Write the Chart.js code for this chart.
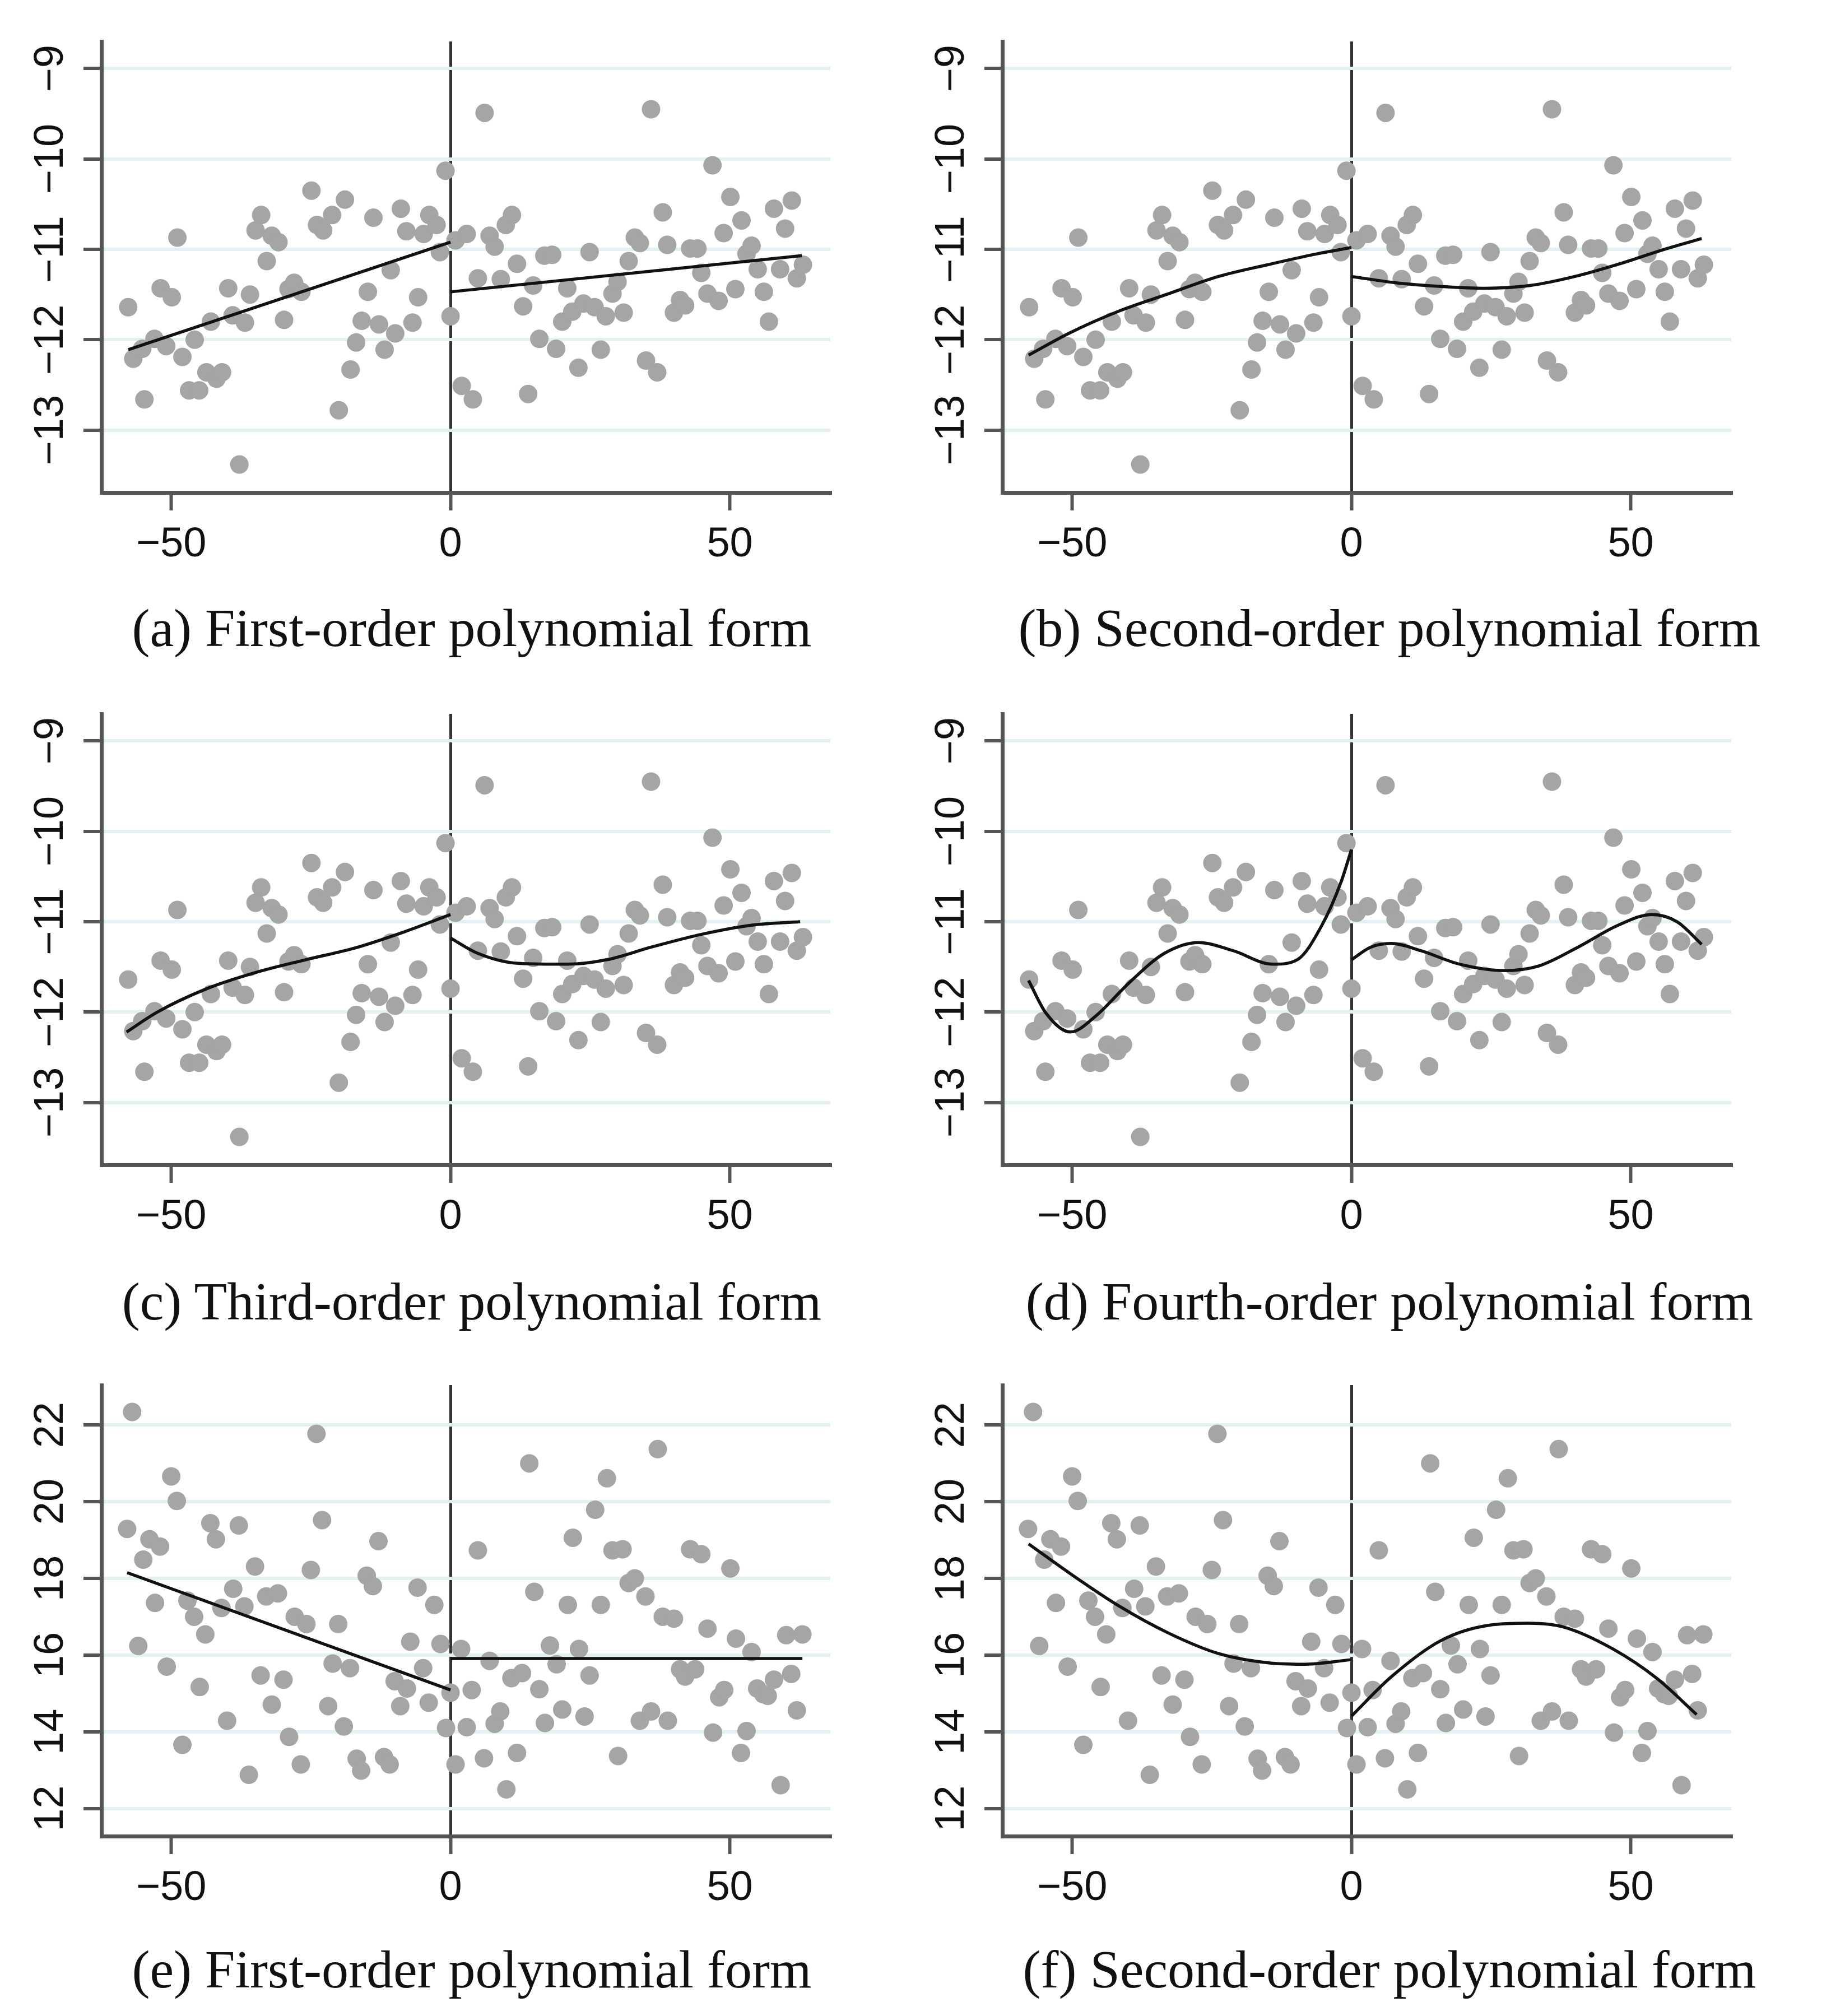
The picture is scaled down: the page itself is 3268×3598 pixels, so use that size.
<!DOCTYPE html>
<html>
<head>
<meta charset="utf-8">
<script src="https://cdn.jsdelivr.net/npm/chart.js@4.4.1/dist/chart.umd.min.js"></script>
<style>
  body { margin: 0; background: #fff; width: 3268px; height: 3598px; position: relative; overflow: hidden; }
  canvas { position: absolute; }
  .caption {
    position: absolute; white-space: nowrap; transform: translate(-50%, -50%);
    font-family: 'Liberation Serif', 'Times New Roman', serif; font-size: 96px; color: #111;
  }
</style>
</head>
<body>
<script>
// bins of the running variable and outcome, panels (a)-(d)
const xAD = [-57.7, -56.8, -55.2, -54.8, -53, -51.9, -50.9, -49.9, -48.9, -48, -46.8, -45.8, -45, -43.7, -42.9,
  -41.9, -40.9, -39.8, -39, -37.8, -36.8, -35.9, -34.9, -33.9, -32.9, -32, -30.8, -29.8, -29, -28, -26.7, -24.9,
  -23.9, -22.8, -21.2, -20, -18.9, -17.9, -16.9, -15.9, -14.8, -13.8, -12.8, -11.8, -10.7, -9.9, -8.9, -7.9, -6.8,
  -5.8, -4.8, -3.8, -2.5, -1.9, -0.9,
  0, 0.9, 2, 2.9, 4, 4.9, 6.1, 7, 7.9, 9, 9.9, 11, 11.9, 13, 13.9, 14.8, 15.9, 16.8, 18.2, 18.9, 20, 20.9, 21.8,
  22.9, 23.8, 24.9, 25.8, 26.9, 27.8, 29, 29.9, 31, 31.9, 33, 33.9, 35, 35.9, 37, 38, 38.8, 40, 41.1, 42, 42.9,
  44.2, 44.9, 46, 46.9, 48, 48.9, 50.1, 51, 52.1, 53, 53.9, 55, 56.1, 57, 57.9, 59, 59.9, 61.1, 62, 63.1];
const yAD = [-11.64, -12.21, -12.10, -12.66, -11.99, -11.43, -12.07, -11.53, -10.87, -12.19, -12.56, -12.0, -12.56,
  -12.36, -11.8, -12.43, -12.36, -11.43, -11.73, -13.38, -11.81, -11.5, -10.79, -10.62, -11.13, -10.85, -10.92,
  -11.78, -11.44, -11.37, -11.47, -10.35, -10.73, -10.79, -10.62, -12.78, -10.45, -12.33, -12.03, -11.79, -11.47,
  -10.65, -11.83, -12.11, -11.23, -11.93, -10.55, -10.8, -11.81, -11.53, -10.83, -10.62, -10.73, -11.03, -10.13,
  -11.74, -10.9, -12.51, -10.83, -12.66, -11.32, -9.49, -10.85, -10.97, -11.33, -10.73, -10.62, -11.16, -11.63,
  -12.6, -11.4, -11.99, -11.07, -11.06, -12.1, -11.8, -11.43, -11.69, -12.31, -11.6, -11.03, -11.64, -12.11, -11.74,
  -11.49, -11.36, -11.7, -11.13, -10.87, -10.93, -12.23, -9.45, -12.36, -10.59, -10.95, -11.7, -11.56, -11.62,
  -10.99, -10.99, -11.26, -11.49, -10.07, -11.57, -10.82, -10.42, -11.44, -10.68, -11.05, -10.96, -11.22, -11.47,
  -11.8, -10.55, -11.22, -10.77, -10.46, -11.32, -11.17];

// panels (e)-(f)
const xEF = [-57.9, -57, -55.9, -55, -53.9, -52.9, -52, -50.8, -50, -49, -48, -47.1, -45.9, -44.9, -43.9, -43, -42,
  -41, -40, -38.9, -37.9, -36.9, -36.1, -35, -34, -33, -32, -30.9, -29.9, -28.9, -27.9, -26.8, -25.8, -25, -24, -23,
  -21.9, -21.1, -20.1, -19.1, -18, -16.8, -16, -15, -13.9, -12.9, -11.9, -10.9, -10, -9, -7.8, -7.2, -5.9, -4.9,
  -3.9, -2.9, -1.8, -0.8,
  0, 0.9, 1.9, 2.9, 3.8, 4.9, 6, 7, 7.9, 8.9, 10, 10.9, 11.9, 12.8, 14.1, 15, 15.9, 16.9, 17.8, 19, 20, 21, 21.9,
  23, 24, 24.9, 25.9, 26.9, 28, 29, 30, 30.8, 31.9, 33, 33.9, 34.9, 35.9, 37.1, 38, 38.9, 40, 41.1, 42, 42.9, 43.8,
  44.9, 46, 47, 48.1, 49, 50.1, 51.1, 52, 53, 53.9, 54.9, 56, 56.8, 57.9, 59.1, 60.1, 61, 62, 63];
const yEF = [19.29, 22.34, 16.24, 18.49, 19.02, 17.36, 18.83, 15.7, 20.66, 20.02, 13.66, 17.42, 17.0, 15.17, 16.54,
  19.44, 19.02, 17.23, 14.29, 17.73, 19.38, 17.27, 12.88, 18.31, 15.47, 17.53, 14.71, 17.61, 15.36, 13.87, 17.0,
  13.15, 16.81, 18.22, 21.77, 19.52, 14.67, 15.78, 16.81, 14.14, 15.66, 13.3, 12.99, 18.07, 17.8, 18.97, 13.34,
  13.15, 15.32, 14.67, 15.13, 16.35, 17.76, 15.66, 14.76, 17.31, 16.29, 14.1,
  15.02, 13.15, 16.16, 14.12, 15.09, 18.73, 13.31, 15.85, 14.21, 14.53, 12.5, 15.4, 13.45, 15.53, 21.0, 17.65,
  15.11, 14.23, 16.25, 15.76, 14.58, 17.31, 19.06, 16.16, 14.4, 15.47, 19.79, 17.31, 20.61, 18.73, 13.37, 18.76,
  17.88, 18.0, 14.29, 17.53, 14.53, 21.37, 17.0, 14.29, 16.95, 15.63, 15.44, 18.76, 15.63, 18.63, 16.69, 13.98,
  14.9, 15.09, 18.26, 16.43, 13.45, 14.02, 16.08, 15.13, 14.98, 14.94, 15.36, 12.61, 16.52, 15.51, 14.56, 16.54];

// fitted curves
const aLeftX = [-57.7, 0], aLeftY = [-12.11, -10.92];
const aRightX = [0, 62.9], aRightY = [-11.47, -11.07];
const bLeftX = [-57.8, -50.3, -41.5, -32.7, -23.8, -15, -6.2, 0];
const bLeftY = [-12.17, -11.92, -11.68, -11.49, -11.3, -11.17, -11.05, -10.98];
const bRightX = [0, 8, 16, 24, 32, 40, 48, 56, 62.7];
const bRightY = [-11.3, -11.37, -11.41, -11.43, -11.4, -11.3, -11.16, -11.0, -10.88];
const cLeftX = [-58, -52.5, -43.6, -34.8, -25.9, -17.1, -8.2, 0];
const cLeftY = [-12.22, -12.0, -11.74, -11.56, -11.42, -11.29, -11.11, -10.92];
const cRightX = [0, 4.9, 12.1, 21, 28, 36, 44.9, 53.7, 62.6];
const cRightY = [-11.18, -11.35, -11.46, -11.47, -11.42, -11.28, -11.14, -11.04, -11.0];
const dLeftX = [-57.8, -54.7, -50.3, -45.9, -39.7, -33.5, -27.4, -21.2, -14.1, -9.7, -5.3, -1.8, 0];
const dLeftY = [-11.65, -12.01, -12.22, -12.05, -11.67, -11.35, -11.23, -11.32, -11.47, -11.42, -11.04, -10.55, -10.2];
const dRightX = [0, 3.5, 7.1, 12.4, 19.4, 27.4, 33.5, 40.6, 47.7, 53.8, 58.3, 62.7];
const dRightY = [-11.42, -11.28, -11.24, -11.32, -11.47, -11.54, -11.49, -11.28, -11.04, -10.92, -11.0, -11.25];
const eLeftX = [-57.9, 0], eLeftY = [18.15, 15.09];
const eRightX = [0, 63], eRightY = [15.91, 15.91];
const fLeftX = [-57.8, -50.3, -41.5, -32.7, -23.8, -15, -8.8, 0];
const fLeftY = [18.9, 18.12, 17.27, 16.57, 16.04, 15.8, 15.76, 15.88];
const fRightX = [0, 7.1, 15.9, 24.7, 31.8, 38, 46.8, 54.7, 61.8];
const fRightY = [14.41, 15.43, 16.37, 16.78, 16.83, 16.73, 16.16, 15.39, 14.45];

const xTicks = [-50, 0, 50];
const yTicksAD = [-13, -12, -11, -10, -9];
const yTicksEF = [12, 14, 16, 18, 20, 22];
const captions = ['(a) First-order polynomial form', '(b) Second-order polynomial form',
  '(c) Third-order polynomial form', '(d) Fourth-order polynomial form',
  '(e) First-order polynomial form', '(f) Second-order polynomial form'];

const tickFamily = "'Liberation Sans', Arial, sans-serif";
const tickSize = 74;
const tickLen = 32;
const colLeft = [0, 1608];
const rowTop = [0, 1200, 2398];
const capX = [842, 2480];
const capY = [1120, 2322, 3514];

const panels = [
  { xs: xAD, ys: yAD, fits: [[aLeftX, aLeftY], [aRightX, aRightY]], yRange: [-13.69, -8.70], yTicks: yTicksAD },
  { xs: xAD, ys: yAD, fits: [[bLeftX, bLeftY], [bRightX, bRightY]], yRange: [-13.69, -8.70], yTicks: yTicksAD },
  { xs: xAD, ys: yAD, fits: [[cLeftX, cLeftY], [cRightX, cRightY]], yRange: [-13.69, -8.70], yTicks: yTicksAD },
  { xs: xAD, ys: yAD, fits: [[dLeftX, dLeftY], [dRightX, dRightY]], yRange: [-13.69, -8.70], yTicks: yTicksAD },
  { xs: xEF, ys: yEF, fits: [[eLeftX, eLeftY], [eRightX, eRightY]], yRange: [11.28, 23.04], yTicks: yTicksEF },
  { xs: xEF, ys: yEF, fits: [[fLeftX, fLeftY], [fRightX, fRightY]], yRange: [11.28, 23.04], yTicks: yTicksEF }
];

function fmt(v) {
  return v < 0 ? '\u2212' + Math.abs(v) : String(v);
}

function widest(labels) {
  const ctx = document.createElement('canvas').getContext('2d');
  ctx.font = tickSize + 'px ' + tickFamily;
  return Math.max(...labels.map(l => ctx.measureText(l).width));
}

panels.forEach(function (p, i) {
  const col = i % 2, row = Math.floor(i / 2);
  const canvas = document.createElement('canvas');
  canvas.width = 1560;
  canvas.height = 1019;
  canvas.style.left = colLeft[col] + 'px';
  canvas.style.top = rowTop[row] + 'px';
  document.body.appendChild(canvas);

  const cap = document.createElement('div');
  cap.className = 'caption';
  cap.textContent = captions[i];
  cap.style.left = capX[col] + 'px';
  cap.style.top = capY[row] + 'px';
  document.body.appendChild(cap);

  const datasets = p.fits.map(f => ({
    data: f[0].map((x, k) => ({ x: x, y: f[1][k] })),
    showLine: true,
    pointRadius: 0,
    borderColor: '#111',
    borderWidth: 5.5,
    cubicInterpolationMode: 'monotone',
    tension: 0.4,
    fill: false,
    order: 1
  }));
  datasets.push({
    data: p.xs.map((x, k) => ({ x: x, y: p.ys[k] })),
    pointRadius: 16.5,
    pointBackgroundColor: '#a5a5a5',
    pointBorderWidth: 0,
    order: 2
  });

  const yPad = 89 - tickLen - widest(p.yTicks.map(fmt)) / 2;

  new Chart(canvas, {
    type: 'scatter',
    data: { datasets: datasets },
    options: {
      responsive: false,
      animation: false,
      devicePixelRatio: 1,
      layout: { padding: { top: 74, right: 78, left: 0, bottom: 0 } },
      plugins: { legend: { display: false }, tooltip: { enabled: false } },
      scales: {
        x: {
          type: 'linear',
          min: -62.5,
          max: 68,
          afterBuildTicks: s => { s.ticks = xTicks.map(v => ({ value: v })); },
          afterFit: s => { s.height = 140; },
          border: { display: true, color: '#555', width: 7 },
          grid: {
            color: c => (c.tick && c.tick.value === 0) ? '#333' : 'rgba(0,0,0,0)',
            lineWidth: 5,
            tickColor: '#555',
            tickWidth: 6,
            tickLength: tickLen
          },
          ticks: {
            font: { family: tickFamily, size: tickSize },
            color: '#111',
            padding: 17,
            maxRotation: 0,
            autoSkip: false,
            callback: fmt
          }
        },
        y: {
          type: 'linear',
          min: p.yRange[0],
          max: p.yRange[1],
          afterBuildTicks: s => { s.ticks = p.yTicks.map(v => ({ value: v })); },
          afterFit: s => { s.width = 181; },
          border: { display: true, color: '#555', width: 7 },
          grid: {
            color: '#e4f1f3',
            lineWidth: 6,
            tickColor: '#555',
            tickWidth: 6,
            tickLength: tickLen
          },
          ticks: {
            font: { family: tickFamily, size: tickSize },
            color: '#111',
            minRotation: 90,
            maxRotation: 90,
            crossAlign: 'center',
            padding: yPad,
            autoSkip: false,
            callback: fmt
          }
        }
      }
    }
  });
});
</script>
</body>
</html>
